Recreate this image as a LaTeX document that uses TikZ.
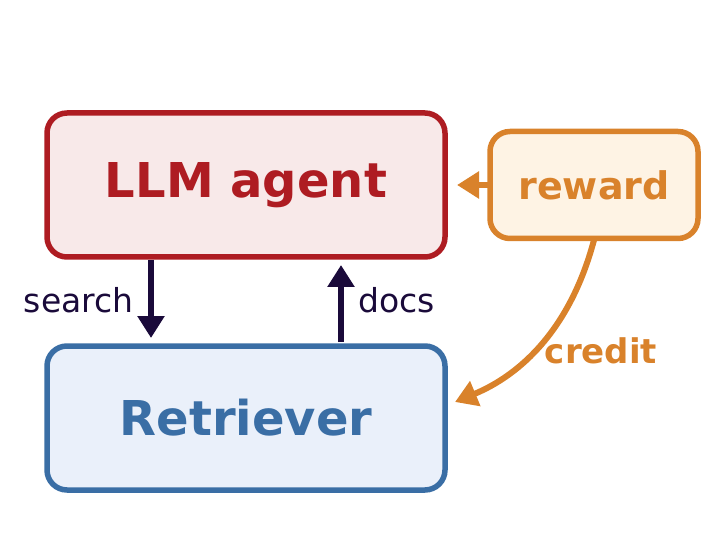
\documentclass[tikz,border=0pt]{standalone}
\usepackage{fontspec}
\setmainfont{DejaVu Sans}
\usetikzlibrary{arrows.meta}
\definecolor{cred}{HTML}{AE1C22}
\definecolor{fred}{HTML}{F8E9E9}
\definecolor{cblue}{HTML}{3A6EA5}
\definecolor{fblue}{HTML}{EAF0FA}
\definecolor{corg}{HTML}{D9822B}
\definecolor{forg}{HTML}{FEF3E4}
\definecolor{cnavy}{HTML}{1A0A3A}
\tikzset{
 box/.style={draw, line width=5.5pt, rounded corners=20pt, inner sep=0pt, font=\bfseries},
 arr/.style={line width=6pt, -{Triangle[length=22pt,width=26pt]}},
}
\begin{document}
\begin{tikzpicture}[x=1pt,y=-1pt]
\useasboundingbox (0,0) rectangle (720,537);
\node[box, draw=cred, fill=fred, text=cred, minimum width=398pt, minimum height=144pt, font=\bfseries\fontsize{48}{52}\selectfont] (llm) at (246,185) {LLM agent};
\node[box, draw=cblue, fill=fblue, text=cblue, minimum width=398pt, minimum height=144pt, font=\bfseries\fontsize{48}{52}\selectfont] (ret) at (246,418) {Retriever};
\node[box, draw=corg, fill=forg, text=corg, minimum width=208pt, minimum height=107pt, font=\bfseries\fontsize{38}{42}\selectfont] (rew) at (594,185) {reward};
\coordinate (s1) at (151,260); \coordinate (s2) at (151,338);
\coordinate (d1) at (341,342); \coordinate (d2) at (341,265);
\draw[arr, cnavy] (s1) -- (s2);
\draw[arr, cnavy] (d1) -- (d2);
\node[text=cnavy, font=\fontsize{33}{36}\selectfont, anchor=east] (st) at (137,300) {search};
\node[text=cnavy, font=\fontsize{33}{36}\selectfont, anchor=west] (dt) at (355,300) {docs};
\coordinate (r1) at (488,185); \coordinate (r2) at (457,185);
\draw[arr, corg] (r1) -- (r2);
\coordinate (c1) at (594,240); \coordinate (c2) at (455,402);
\draw[arr, corg] (c1) .. controls (570,330) and (520,375) .. (c2);
\node[text=corg, font=\bfseries\fontsize{34}{36}\selectfont] (ct) at (601,351) {credit};
\end{tikzpicture}
\end{document}
